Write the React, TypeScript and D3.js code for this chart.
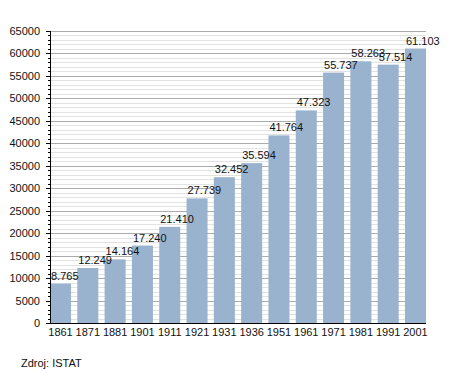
import React, { useEffect, useRef } from 'react';
import * as d3 from 'd3';

const years = ['1861', '1871', '1881', '1901', '1911', '1921', '1931', '1936', '1951', '1961', '1971', '1981', '1991', '2001'];
const population = [8765, 12249, 14164, 17240, 21410, 27739, 32452, 35594, 41764, 47323, 55737, 58263, 57514, 61103];
const yTicks = d3.range(0, 65001, 5000);
const minorTicks = d3.range(0, 65001, 1000);
const sourceNote = 'Zdroj: ISTAT';

const width = 455;
const height = 373;
const margin = { left: 50, right: 29, top: 31, bottom: 50 };

const itFormat = d3.formatLocale({ decimal: ',', thousands: '.', grouping: [3], currency: ['', ''] }).format(',');

export default function App() {
  const ref = useRef<SVGSVGElement>(null);

  useEffect(() => {
    const svg = d3.select(ref.current);
    svg.selectAll('*').remove();

    const x = d3.scaleBand()
      .domain(years)
      .range([margin.left, width - margin.right])
      .paddingInner(0.23)
      .paddingOuter(0)
      .align(0);

    const y = d3.scaleLinear()
      .domain([0, 65000])
      .range([height - margin.bottom, margin.top]);

    const font = 'Liberation Sans, Arial, sans-serif';

    // minor gridlines
    svg.append('g')
      .selectAll('line')
      .data(minorTicks.filter(t => t % 5000 !== 0))
      .enter()
      .append('line')
      .attr('x1', margin.left)
      .attr('x2', width - margin.right)
      .attr('y1', d => Math.round(y(d)) + 0.5)
      .attr('y2', d => Math.round(y(d)) + 0.5)
      .attr('stroke', '#e2e2e2');

    // major gridlines
    svg.append('g')
      .selectAll('line')
      .data(yTicks.filter(t => t > 0))
      .enter()
      .append('line')
      .attr('x1', margin.left)
      .attr('x2', width - margin.right)
      .attr('y1', d => Math.round(y(d)) + 0.5)
      .attr('y2', d => Math.round(y(d)) + 0.5)
      .attr('stroke', '#ababab');

    // bars
    svg.append('g')
      .selectAll('rect')
      .data(population)
      .enter()
      .append('rect')
      .attr('x', (d, i) => x(years[i])!)
      .attr('y', d => y(d))
      .attr('width', x.bandwidth())
      .attr('height', d => y(0) - y(d))
      .attr('fill', '#99b3cf');

    // value labels
    svg.append('g')
      .selectAll('text')
      .data(population)
      .enter()
      .append('text')
      .attr('x', (d, i) => x(years[i])! + 1)
      .attr('y', d => y(d) - 4)
      .attr('font-family', font)
      .attr('font-size', 11)
      .attr('fill', '#111')
      .text(d => itFormat(d));

    // y axis
    const yAxis = svg.append('g');
    yAxis.selectAll('line.minor')
      .data(minorTicks)
      .enter()
      .append('line')
      .attr('x1', margin.left - 2)
      .attr('x2', margin.left)
      .attr('y1', d => Math.round(y(d)) + 0.5)
      .attr('y2', d => Math.round(y(d)) + 0.5)
      .attr('stroke', '#000');
    yAxis.selectAll('line.major')
      .data(yTicks)
      .enter()
      .append('line')
      .attr('x1', margin.left - 4)
      .attr('x2', margin.left)
      .attr('y1', d => Math.round(y(d)) + 0.5)
      .attr('y2', d => Math.round(y(d)) + 0.5)
      .attr('stroke', '#000');
    yAxis.selectAll('text')
      .data(yTicks)
      .enter()
      .append('text')
      .attr('x', margin.left - 10)
      .attr('y', d => y(d) + 4)
      .attr('text-anchor', 'end')
      .attr('font-family', font)
      .attr('font-size', 11)
      .attr('fill', '#111')
      .text(d => String(d));
    yAxis.append('line')
      .attr('x1', margin.left + 0.5)
      .attr('x2', margin.left + 0.5)
      .attr('y1', y(65000))
      .attr('y2', y(0))
      .attr('stroke', '#000');

    // x axis
    svg.append('line')
      .attr('x1', margin.left)
      .attr('x2', width - margin.right)
      .attr('y1', Math.round(y(0)) + 0.5)
      .attr('y2', Math.round(y(0)) + 0.5)
      .attr('stroke', '#000');
    svg.append('g')
      .selectAll('text')
      .data(years)
      .enter()
      .append('text')
      .attr('x', d => x(d)! + x.bandwidth() / 2)
      .attr('y', y(0) + 13)
      .attr('text-anchor', 'middle')
      .attr('font-family', font)
      .attr('font-size', 11)
      .attr('fill', '#111')
      .text(d => d);

    svg.append('text')
      .attr('x', 21)
      .attr('y', 367)
      .attr('font-family', font)
      .attr('font-size', 11)
      .attr('fill', '#111')
      .text(sourceNote);
  }, []);

  return (
    <svg ref={ref} width={width} height={height} style={{ position: 'absolute', left: 0, top: 0 }}></svg>
  );
}
